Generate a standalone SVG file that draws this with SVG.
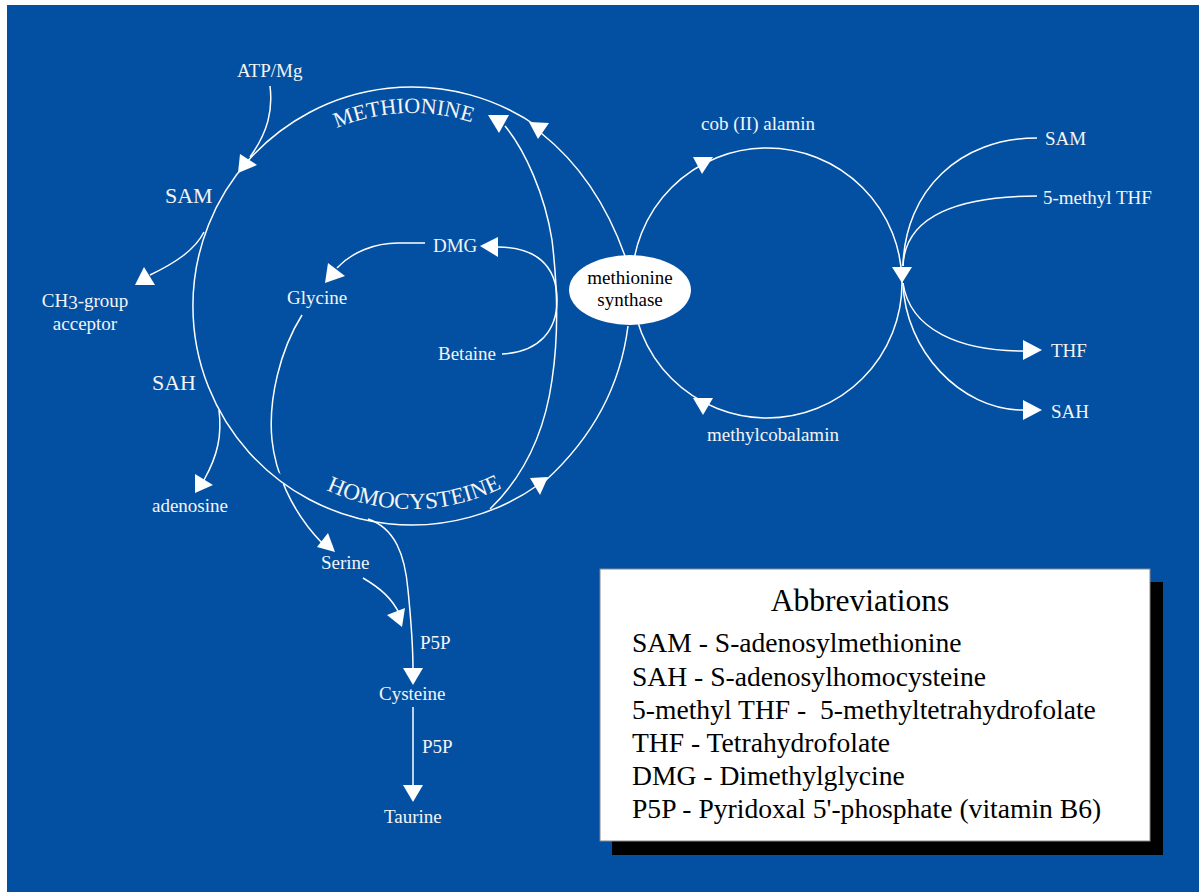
<svg xmlns="http://www.w3.org/2000/svg" width="1199" height="892" viewBox="0 0 1199 892">
<style>
.lbl{font-family:"Liberation Serif","Times New Roman",serif;font-size:19px;fill:#f4f4f4}
.big{font-family:"Liberation Serif","Times New Roman",serif;font-size:22px;fill:#f4f4f4}
.ln{fill:none;stroke:#fff;stroke-width:1.5}
.ah{fill:#fff;stroke:none}
.box{font-family:"Liberation Serif","Times New Roman",serif;font-size:27.6px;fill:#000}
</style>
<defs>
<path id="metPath" d="M336.6,128.3 A193,193 0 0,1 493.6,131.1"/>
<path id="hcyPath" d="M326.2,490 A203,203 0 0,0 528.4,472.3"/>
</defs>
<rect x="0" y="0" width="1199" height="892" fill="#fff"/>
<rect x="7" y="5" width="1192" height="887" fill="#0350A2"/>

<g id="connectors">
<path class="ln" d="M302,315 C280,350 268,400 272,440 C275,470 290,510 322,543"/>
<line x1="284.5" y1="482.5" x2="273.5" y2="473.5" stroke="#0350A2" stroke-width="8"/>
<path class="ln" d="M539.5,128 A219,219 0 1,0 539.5,484"/>
<path class="ln" d="M505,126 C525,150 545,195 552,240 C558,290 558,340 552,380 C545,430 525,475 490,509"/>
<path class="ln" d="M625,256 C605,200 575,160 541,133"/>
<path class="ln" d="M628,326 C620,390 590,440 545,481"/>
<path class="ln" d="M270,86 C273,110 268,132 250,157"/>
<path class="ln" d="M204,232 C195,250 175,263 150,275"/>
<path class="ln" d="M219,410 C222,435 218,455 204,480"/>
<path class="ln" d="M363,578 C380,588 392,598 400,615"/>
<path class="ln" d="M368,519 C395,528 405,555 408,590 C411,620 413,645 413,670"/>
<path class="ln" d="M413,707 L413,786"/>
<path class="ln" d="M425,243 L398,243 C375,243 352,252 337,268"/>
<path class="ln" d="M502,354 C540,352 557,330 557,300 C557,265 535,247 498,247"/>
<circle class="ln" cx="767" cy="283" r="135"/>
<path class="ln" d="M1037,138 C960,138 905,190 903,266"/>
<path class="ln" d="M1037,196 C960,196 905,215 903,266"/>
<path class="ln" d="M903,283 C910,330 960,351 1023,351"/>
<path class="ln" d="M903,283 C905,350 960,410 1023,410"/>
<polygon class="ah" points="240,154 257,165 238,173"/>
<polygon class="ah" points="135,285 144,267 155,285"/>
<polygon class="ah" points="195,474 213,485 195,493"/>
<polygon class="ah" points="328,263 345,276 325,283"/>
<polygon class="ah" points="498,237 480,246 498,257"/>
<polygon class="ah" points="317,547 328,533 335,552"/>
<polygon class="ah" points="387,615 405,608 402,627"/>
<polygon class="ah" points="403,668 423,668 413,685"/>
<polygon class="ah" points="403,785 423,785 413,802"/>
<polygon class="ah" points="488,115 509,115 499,133"/>
<polygon class="ah" points="529,122 549,123 538,139"/>
<polygon class="ah" points="530,478 548,477 540,495"/>
<polygon class="ah" points="693,157 713,157 702,174"/>
<polygon class="ah" points="693,398 713,398 703,415"/>
<polygon class="ah" points="892,267 912,267 902,283"/>
<polygon class="ah" points="1023,340 1023,360 1042,350"/>
<polygon class="ah" points="1023,400 1023,420 1042,410"/>
</g>

<g id="methionine"><text class="big"><textPath href="#metPath">METHIONINE</textPath></text></g>
<g id="homocysteine"><text class="big" style="font-size:23px"><textPath href="#hcyPath">HOMOCYSTEINE</textPath></text></g>
<g id="methionine-synthase">
<ellipse cx="630" cy="290" rx="61" ry="35" fill="#fff"/>
<text class="lbl" x="630" y="284" text-anchor="middle" style="fill:#000">methionine</text>
<text class="lbl" x="630" y="306" text-anchor="middle" style="fill:#000">synthase</text>
</g>
<g id="atp"><text class="lbl" x="237" y="77">ATP/Mg</text></g>
<g id="sam-left"><text class="big" x="165" y="203">SAM</text></g>
<g id="ch3"><text class="lbl" x="85" y="307" text-anchor="middle">CH<tspan dy="2">3</tspan><tspan dy="-2">-group</tspan></text><text class="lbl" x="85" y="330" text-anchor="middle">acceptor</text></g>
<g id="sah-left"><text class="big" x="152" y="390">SAH</text></g>
<g id="adenosine"><text class="lbl" x="152" y="512">adenosine</text></g>
<g id="glycine"><text class="lbl" x="287" y="304">Glycine</text></g>
<g id="dmg"><text class="lbl" x="433" y="252">DMG</text></g>
<g id="betaine"><text class="lbl" x="438" y="360">Betaine</text></g>
<g id="serine"><text class="lbl" x="321" y="569">Serine</text></g>
<g id="p5p-1"><text class="lbl" x="420" y="649">P5P</text></g>
<g id="cysteine"><text class="lbl" x="379" y="700">Cysteine</text></g>
<g id="p5p-2"><text class="lbl" x="422" y="753">P5P</text></g>
<g id="taurine"><text class="lbl" x="384" y="823">Taurine</text></g>
<g id="cob2"><text class="lbl" x="701" y="130">cob (II) alamin</text></g>
<g id="methylcob"><text class="lbl" x="707" y="441">methylcobalamin</text></g>
<g id="sam-right"><text class="lbl" x="1045" y="145">SAM</text></g>
<g id="mthf"><text class="lbl" x="1043" y="204">5-methyl THF</text></g>
<g id="thf"><text class="lbl" x="1051" y="357">THF</text></g>
<g id="sah-right"><text class="lbl" x="1051" y="418">SAH</text></g>

<g id="abbreviations">
<rect x="612" y="582" width="551" height="273" fill="#000"/>
<rect x="600" y="569" width="550" height="272" fill="#fff" stroke="#888" stroke-width="1"/>
<text class="box" x="860" y="611" text-anchor="middle" style="font-size:31.5px">Abbreviations</text>
<text class="box" x="632" y="652">SAM - S-adenosylmethionine</text>
<text class="box" x="632" y="686">SAH - S-adenosylhomocysteine</text>
<text class="box" x="632" y="719" xml:space="preserve">5-methyl THF -  5-methyltetrahydrofolate</text>
<text class="box" x="632" y="752">THF - Tetrahydrofolate</text>
<text class="box" x="632" y="785">DMG - Dimethylglycine</text>
<text class="box" x="632" y="818">P5P - Pyridoxal 5'-phosphate (vitamin B6)</text>
</g>
</svg>
